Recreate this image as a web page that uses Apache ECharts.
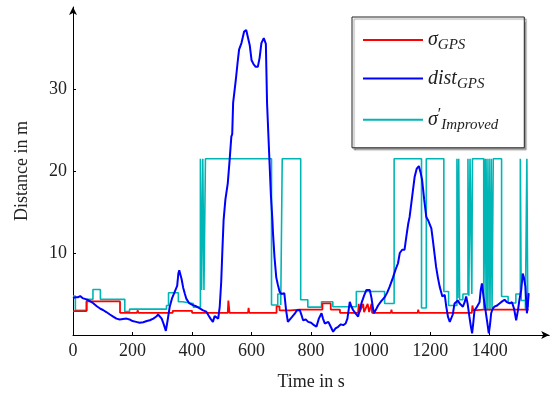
<!DOCTYPE html>
<html>
<head>
<meta charset="utf-8">
<script src="https://cdn.jsdelivr.net/npm/echarts@6/dist/echarts.min.js"></script>
<style>html,body{margin:0;padding:0;background:#fff}#c{width:553px;height:397px}</style>
</head>
<body>
<div id="c"></div>
<script>
// ---- data (time in s, value in m) ----
const xTicks = [0, 200, 400, 600, 800, 1000, 1200, 1400];
const yTicks = [10, 20, 30];

const sigmaGPS = [[0,2.9],[45,2.9],[45,4.1],[158,4.1],[158,2.7],[215,2.7],[217,3.0],[220,2.7],[335,2.7],[335,2.95],[400,2.95],[400,2.7],[520,2.7],[522,4.2],[526,2.7],[588,2.7],[590,3.3],[592,2.7],[684,2.7],[684,3.5],[694,3.5],[694,3.0],[730,3.0],[760,3.1],[838,3.1],[838,3.85],[866,3.85],[866,3.1],[897,3.1],[897,2.7],[958,2.7],[960,3.8],[963,2.8],[975,3.8],[978,2.8],[990,3.8],[995,2.8],[1003,3.8],[1005,2.7],[1068,2.7],[1070,3.1],[1072,2.7],[1158,2.7],[1160,3.1],[1162,2.7],[1340,2.7],[1342,3.6],[1345,3.0],[1380,3.1],[1531,3.1]];

const distGPS = [[0,4.5],[8,4.6],[16,4.6],[24,4.75],[32,4.5],[40,4.4],[48,4.3],[58,4.1],[67,3.9],[80,3.5],[92,3.2],[101,3.05],[112,2.8],[124,2.5],[135,2.25],[146,2.0],[157,1.9],[168,1.95],[180,2.0],[190,1.9],[200,1.7],[212,1.6],[224,1.5],[236,1.55],[248,1.7],[258,1.8],[270,2.0],[280,2.25],[286,2.5],[291,2.45],[298,2.0],[305,1.3],[312,0.5],[318,1.8],[325,3.45],[333,4.5],[342,5.3],[350,6.0],[354,7.5],[357,7.9],[361,7.7],[365,6.8],[370,5.8],[376,5.0],[381,4.4],[390,3.9],[403,3.65],[414,3.5],[426,3.25],[437,3.0],[448,2.85],[455,2.4],[462,2.0],[470,1.6],[476,2.3],[482,2.2],[488,2.0],[493,3.45],[498,6.5],[502,10.4],[506,14],[512,16.5],[520,18.5],[526,21.2],[532,24.2],[535,24.5],[538,28.3],[547,31.1],[553,33.2],[558,34.8],[566,35.6],[575,37.0],[582,37.2],[588,37.0],[594,35.3],[600,33.5],[607,33.0],[614,32.7],[621,32.7],[627,33.8],[633,35.6],[641,36.2],[646,36.0],[648,35.5],[652,28.3],[659,22.2],[665,17],[670,14.0],[672,12.4],[677,9.5],[683,7.0],[688,6.2],[694,5.3],[700,5.0],[705,5.1],[710,5.1],[716,3.0],[722,1.6],[728,1.7],[736,2.2],[745,2.6],[752,3.0],[762,3.05],[768,2.4],[773,1.8],[782,1.9],[790,1.6],[800,1.5],[810,1.2],[818,1.0],[826,2.0],[835,2.65],[840,2.0],[846,1.4],[852,1.5],[858,1.6],[866,1.0],[874,0.4],[882,0.8],[891,1.0],[900,1.3],[908,1.2],[916,1.4],[922,2.0],[930,4.05],[935,3.5],[941,3.05],[950,2.6],[958,2.25],[963,3.0],[969,3.85],[978,4.8],[986,5.5],[992,5.4],[997,5.5],[1003,4.5],[1007,3.5],[1011,2.65],[1018,3.1],[1025,3.6],[1035,4.1],[1048,4.65],[1056,5.2],[1064,5.9],[1075,7.0],[1084,8.0],[1092,8.75],[1098,10.0],[1106,10.4],[1114,10.4],[1120,12.0],[1126,13.5],[1131,14.4],[1140,17.0],[1148,19.3],[1155,20.3],[1162,20.6],[1168,19.8],[1173,18.9],[1180,16.5],[1187,14.4],[1193,14.0],[1198,14.2],[1204,13.0],[1209,11.6],[1215,9.8],[1220,8.3],[1226,7.0],[1232,5.9],[1241,4.7],[1249,4.9],[1254,3.5],[1260,2.2],[1266,1.6],[1271,1.4],[1276,2.5],[1282,3.85],[1288,4.0],[1293,4.2],[1300,3.8],[1310,3.45],[1316,4.0],[1321,4.7],[1326,3.8],[1332,2.2],[1337,1.0],[1341,0.2],[1345,1.5],[1349,3.0],[1355,3.3],[1360,3.45],[1366,4.0],[1370,5.5],[1374,6.3],[1380,4.5],[1386,3.0],[1392,1.5],[1397,0.2],[1401,1.2],[1405,2.65],[1410,3.2],[1416,3.45],[1425,3.6],[1433,3.85],[1442,4.1],[1450,4.3],[1458,4.0],[1467,3.85],[1475,4.0],[1482,3.2],[1489,1.8],[1495,3.0],[1500,4.3],[1506,5.5],[1511,7.5],[1515,7.0],[1520,5.9],[1523,4.0],[1525,2.65],[1528,3.5],[1531,5.1]];

const sigmaImproved = [[0,4.75],[8,4.75],[8,3.0],[47,3.0],[47,4.35],[67,4.35],[67,5.55],[92,5.55],[92,4.35],[174,4.35],[174,2.85],[190,2.85],[190,3.15],[314,3.15],[314,3.6],[321,3.6],[321,5.15],[354,5.15],[354,4.05],[368,4.05],[368,3.85],[404,3.85],[404,3.4],[428,3.4],[428,21.5],[432,21.5],[432,5.5],[436,5.5],[436,21.5],[440,21.5],[440,5.5],[445,5.5],[445,21.5],[667,21.5],[667,3.65],[688,3.65],[688,5.0],[698,5.0],[698,3.65],[703,3.65],[703,21.5],[765,21.5],[765,4.3],[789,4.3],[789,3.4],[835,3.4],[835,4.05],[873,4.05],[873,3.45],[952,3.45],[952,5.3],[1047,5.3],[1047,3.85],[1079,3.85],[1079,21.5],[1171,21.5],[1171,3.3],[1187,3.3],[1187,21.5],[1246,21.5],[1246,5.3],[1262,5.3],[1262,3.6],[1290,3.6],[1290,21.5],[1293,21.5],[1293,4.5],[1296,4.5],[1296,21.5],[1299,21.5],[1299,4.3],[1310,4.3],[1310,5.0],[1327,5.0],[1327,21.5],[1330,21.5],[1330,4.8],[1334,4.8],[1334,21.5],[1340,21.5],[1340,5.0],[1342,5.0],[1342,21.5],[1380,21.5],[1380,3.2],[1385,3.2],[1385,21.5],[1388,21.5],[1388,3.0],[1391,3.0],[1391,21.5],[1394,21.5],[1394,3.0],[1398,3.0],[1398,21.5],[1401,21.5],[1401,3.0],[1405,3.0],[1405,21.5],[1408,21.5],[1408,3.3],[1412,3.3],[1412,21.5],[1440,21.5],[1440,4.7],[1462,4.7],[1462,3.9],[1488,3.9],[1488,5.0],[1503,5.0],[1503,21.5],[1506,21.5],[1506,4.2],[1520,4.2],[1520,3.2],[1525,3.2],[1525,21.5],[1528,21.5],[1528,3.5],[1531,3.5]];

const font = 'Liberation Serif';
const chart = echarts.init(document.getElementById('c'), null, {renderer: 'canvas'});
const axisCommon = {
  axisLine: {show: true, onZero: false, lineStyle: {color: '#000', width: 1}, symbol: ['none', 'arrow'], symbolSize: [6, 8]},
  axisTick: {show: true, inside: true, length: 3, lineStyle: {color: '#000'}},
  splitLine: {show: false},
  axisLabel: {color: '#222', fontFamily: font, fontSize: 18, formatter: v => String(v)},
  nameTextStyle: {color: '#222', fontFamily: font, fontSize: 18}
};
const rich = {
  m: {fontFamily: font, fontStyle: 'italic', fontSize: 20, lineHeight: 26, color: '#222'},
  p: {fontFamily: font, fontSize: 16, lineHeight: 26, verticalAlign: 'top', color: '#222'},
  s: {fontFamily: font, fontStyle: 'italic', fontSize: 15, lineHeight: 15, verticalAlign: 'bottom', color: '#222'}
};
const labels = {
  'sigmaGPS': '{m|σ}{s|GPS}',
  'distGPS': '{m|dist}{s|GPS}',
  'sigmaImp': '{m|σ}{p|′}{s|Improved}'
};
chart.setOption({
  animation: false,
  backgroundColor: '#fff',
  grid: {left: 73, top: 7, width: 476.2, height: 328},
  xAxis: Object.assign({}, axisCommon, {
    type: 'value', min: 0, max: 1600, interval: 200,
    name: 'Time in s', nameLocation: 'middle', nameGap: 38,
    axisLabel: Object.assign({}, axisCommon.axisLabel, {margin: 7, customValues: xTicks}),
    axisTick: Object.assign({}, axisCommon.axisTick, {customValues: xTicks.slice(1)})
  }),
  yAxis: Object.assign({}, axisCommon, {
    type: 'value', min: 0, max: 40, interval: 10,
    name: 'Distance in m', nameLocation: 'middle', nameGap: 42,
    axisLabel: Object.assign({}, axisCommon.axisLabel, {margin: 6, customValues: yTicks}),
    axisTick: Object.assign({}, axisCommon.axisTick, {customValues: yTicks})
  }),
  legend: {
    orient: 'vertical', left: 352, top: 17,
    padding: [13, 26, 15, 11], itemGap: 15.4,
    icon: 'rect', itemWidth: 60, itemHeight: 2,
    backgroundColor: '#fff', borderColor: '#222', borderWidth: 1, borderRadius: 0,
    shadowColor: 'rgba(0,0,0,0.35)', shadowOffsetX: 2, shadowOffsetY: 2, shadowBlur: 1,
    data: ['sigmaGPS', 'distGPS', 'sigmaImp'],
    formatter: n => labels[n],
    textStyle: {rich: rich, width: 85}
  },
  series: [
    {name: 'sigmaImp', type: 'line', data: sigmaImproved, symbol: 'none', color: '#00b5b5', lineStyle: {width: 1.6, color: '#00b5b5'}, z: 2},
    {name: 'sigmaGPS', type: 'line', data: sigmaGPS, symbol: 'none', color: '#ff0000', lineStyle: {width: 1.8, color: '#ff0000'}, z: 3},
    {name: 'distGPS', type: 'line', data: distGPS, symbol: 'none', color: '#0000ff', lineStyle: {width: 2, color: '#0000ff'}, z: 4}
  ]
});
</script>
</body>
</html>
